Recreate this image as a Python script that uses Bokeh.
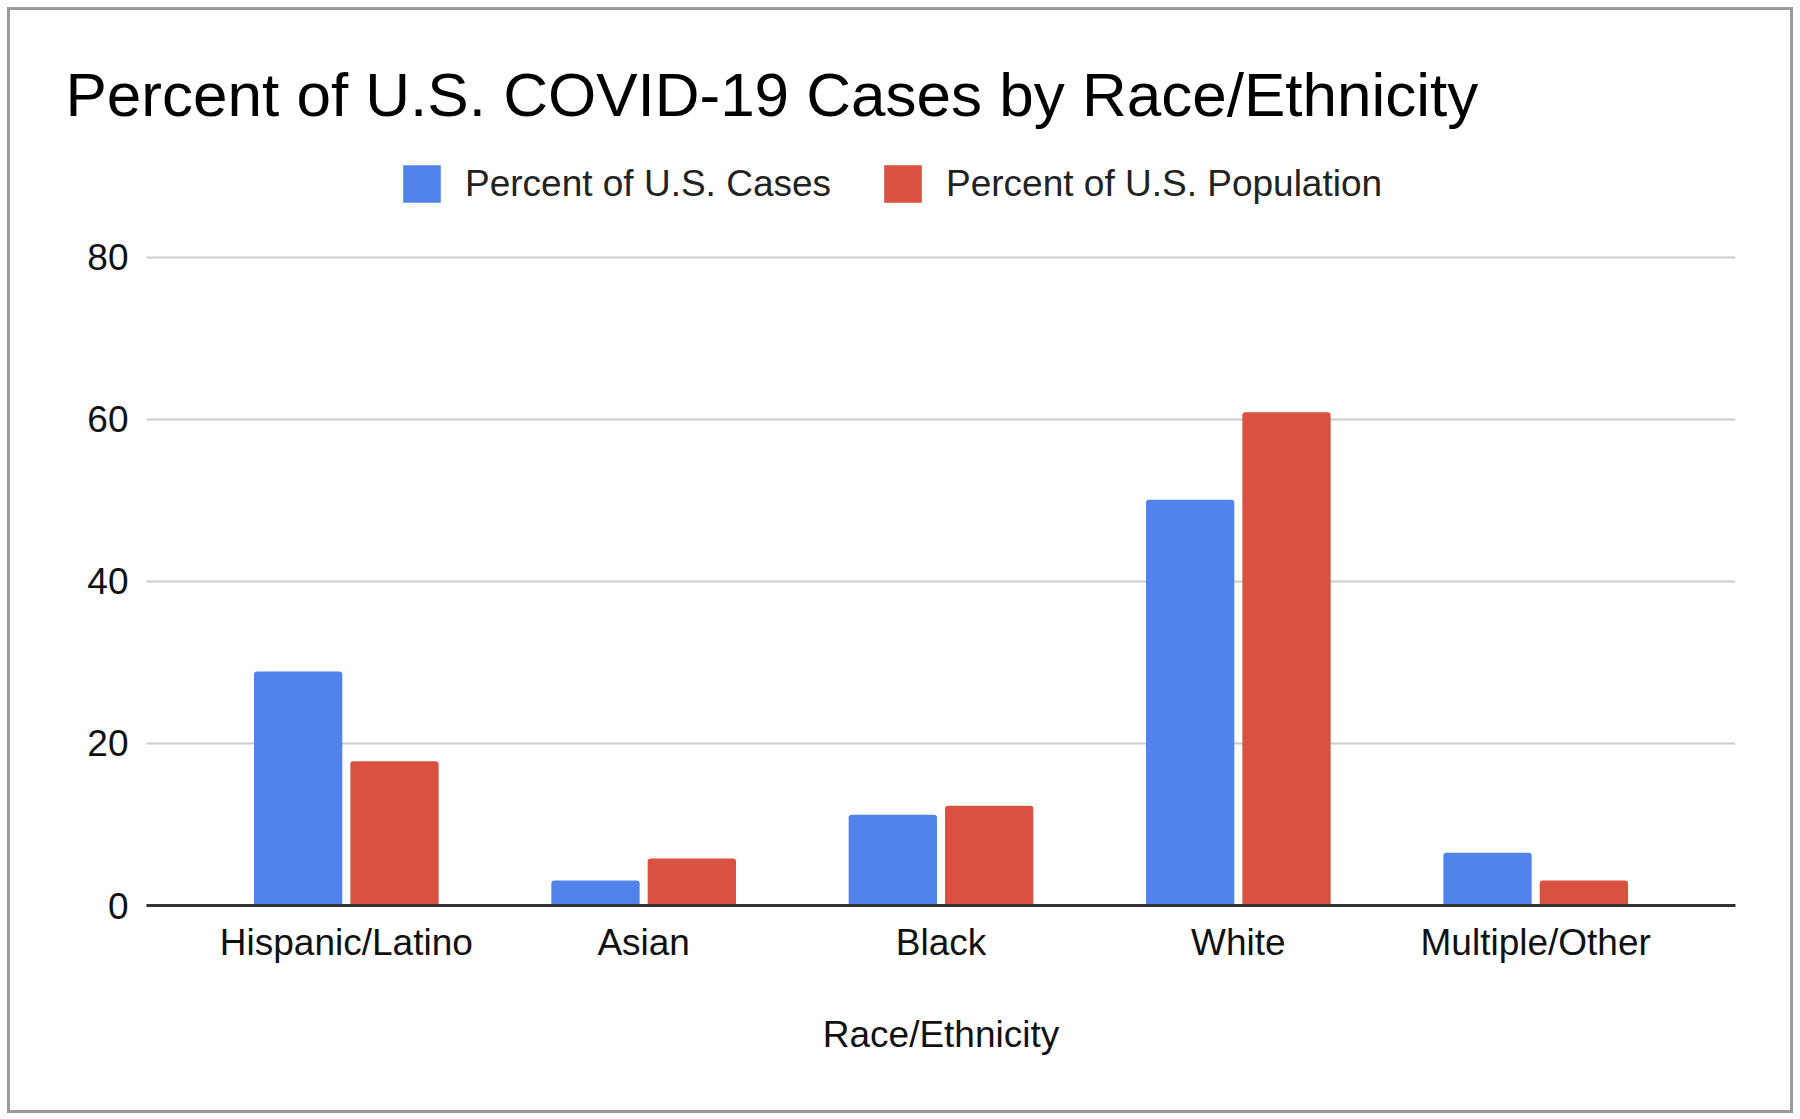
from bokeh.plotting import figure
from bokeh.models import (FactorRange, Range1d, ColumnDataSource, Legend, LegendItem,
                          FixedTicker)
from bokeh.transform import dodge
from bokeh.embed import file_html
from bokeh.resources import INLINE

categories = ["Hispanic/Latino", "Asian", "Black", "White", "Multiple/Other"]
pct_cases = [28.9, 3.1, 11.2, 50.1, 6.5]
pct_population = [17.8, 5.8, 12.3, 60.9, 3.1]
y_ticks = [0, 20, 40, 60, 80]

FONT = "Liberation Sans"
BLUE = "#5183EB"
RED = "#D85141"

source = ColumnDataSource(dict(cat=categories, cases=pct_cases, pop=pct_population))

p = figure(
    width=1786, height=1106,
    x_range=FactorRange(factors=categories, range_padding=0.0688, range_padding_units="percent"),
    y_range=Range1d(0, 94.44),
    output_backend="svg", toolbar_location=None,
    min_border_left=136, min_border_right=61, min_border_top=130, min_border_bottom=211,
    title="Percent of U.S. COVID-19 Cases by Race/Ethnicity",
)
p.styles = {"border": "3px solid #9a9a9a", "margin-left": "7px", "margin-top": "7px"}

p.title.text_font = FONT
p.title.text_font_size = "62px"
p.title.text_font_style = "normal"
p.title.text_color = "#000000"
p.title.align = "left"
p.title.offset = -81
p.title.standoff = 23

p.outline_line_color = None
p.background_fill_color = "white"
p.border_fill_color = "white"

r1 = p.vbar(x=dodge("cat", -0.162, range=p.x_range), top="cases", width=0.297, source=source,
            fill_color=BLUE, line_color=None, border_radius=[3, 3, 0, 0])
r2 = p.vbar(x=dodge("cat", 0.162, range=p.x_range), top="pop", width=0.297, source=source,
            fill_color=RED, line_color=None, border_radius=[3, 3, 0, 0])

# axes
p.xaxis.axis_line_color = "#333333"
p.xaxis.axis_line_width = 3
p.xaxis.major_tick_line_color = None
p.xaxis.minor_tick_line_color = None
p.xaxis.major_label_text_font = FONT
p.xaxis.major_label_text_font_size = "37px"
p.xaxis.major_label_text_color = "#111111"
p.xaxis.major_label_standoff = 10
p.xaxis.axis_label = "Race/Ethnicity"
p.xaxis.axis_label_text_font = FONT
p.xaxis.axis_label_text_font_size = "37px"
p.xaxis.axis_label_text_font_style = "normal"
p.xaxis.axis_label_text_color = "#111111"
p.xaxis.axis_label_standoff = 48

p.yaxis.ticker = FixedTicker(ticks=y_ticks)
p.yaxis.axis_line_color = None
p.yaxis.major_tick_line_color = None
p.yaxis.minor_tick_line_color = None
p.yaxis.major_label_text_font = FONT
p.yaxis.major_label_text_font_size = "37px"
p.yaxis.major_label_text_color = "#111111"
p.yaxis.major_label_standoff = 12

p.xgrid.grid_line_color = None
p.ygrid.grid_line_color = "#cccccc"
p.ygrid.grid_line_width = 2

legend = Legend(
    items=[LegendItem(label="Percent of U.S. Cases", renderers=[r1]),
           LegendItem(label="Percent of U.S. Population", renderers=[r2])],
    orientation="horizontal",
    location=(252, 698),
    glyph_width=47, glyph_height=47, label_height=47,
    label_standoff=20, spacing=48, padding=0, margin=0,
    label_text_font=FONT, label_text_font_size="37px", label_text_color="#222222",
    border_line_color=None, background_fill_alpha=0,
)
p.add_layout(legend)

open("out.html", "w").write(file_html(p, INLINE))
